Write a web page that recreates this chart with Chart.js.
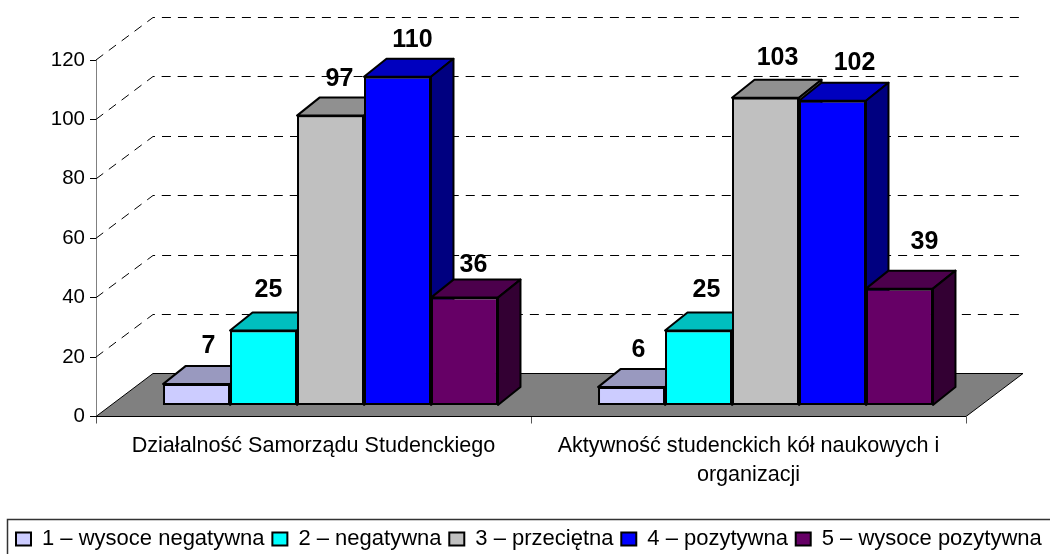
<!DOCTYPE html>
<html><head><meta charset="utf-8">
<style>html,body{margin:0;padding:0;background:#fff;overflow:hidden}#w{position:relative;width:1050px;height:554px}</style>
<script src="https://cdn.jsdelivr.net/npm/chart.js@4/dist/chart.umd.js"></script>
</head><body><div id="w"><canvas id="c" width="1050" height="554"></canvas></div>
<script>
const categories = [["Działalność Samorządu Studenckiego"], ["Aktywność studenckich kół naukowych i", "organizacji"]];
const seriesNames = ["1 – wysoce negatywna", "2 – negatywna", "3 – przeciętna", "4 – pozytywna", "5 – wysoce pozytywna"];
const s1 = [7, 6];
const s2 = [25, 25];
const s3 = [97, 103];
const s4 = [110, 102];
const s5 = [36, 39];
const tickValues = [0, 20, 40, 60, 80, 100, 120];
const seriesValues = [s1, s2, s3, s4, s5];
const fronts = ["#CCCCFF", "#00FFFF", "#C0C0C0", "#0000FF", "#660066"];
const tops = ["#9999BF", "#00BFBF", "#909090", "#0000BF", "#4C004C"];
const sides = ["#666680", "#008080", "#606060", "#000080", "#330033"];
// hand-placed label nudges relative to the bar's top centre [series][category] = [dx, dy]
const labelNudge = [[[12,-38],[7,-37]],[[5,-40],[8,-40]],[[9,-37],[12,-40]],[[15,-37],[22,-38]],[[9,-32],[25,-47]]];

const SHIFT = {x: 17, y: -11.5};
const BAR_DEPTH = {x: 22.5, y: -18};
const WALL = {x: 57, y: -43};
const FONT = '"Liberation Sans", Arial, sans-serif';

const scene = {
  id: 'scene',
  afterLayout(chart) {
    chart.legend.top += 6;
    chart.legend.bottom += 6;
  },
  beforeDatasetsDraw(chart) {
    const {ctx, chartArea: a, scales: {y}} = chart;
    const y0 = y.getPixelForValue(0);
    ctx.save();
    // floor
    ctx.beginPath();
    ctx.moveTo(a.left, y0);
    ctx.lineTo(a.left + WALL.x, y0 + WALL.y);
    ctx.lineTo(a.right + WALL.x, y0 + WALL.y);
    ctx.lineTo(a.right, y0);
    ctx.closePath();
    ctx.fillStyle = '#808080';
    ctx.fill();
    ctx.strokeStyle = '#000';
    ctx.lineWidth = 1;
    ctx.stroke();
    // dashed grid
    ctx.setLineDash([9, 7]);
    tickValues.filter(v => v > 0).forEach(v => {
      const p = y.getPixelForValue(v);
      const back = Math.round(p + WALL.y) + 0.5;
      ctx.beginPath();
      ctx.moveTo(a.left, p);
      ctx.lineTo(a.left + WALL.x, back);
      ctx.lineTo(a.right + WALL.x, back);
      ctx.stroke();
    });
    ctx.setLineDash([]);
    // bars
    chart.data.datasets.forEach((ds, i) => {
      chart.getDatasetMeta(i).data.forEach(el => {
        const b = el.getProps(['x', 'y', 'base', 'width'], true);
        const l = b.x - b.width / 2, r = b.x + b.width / 2;
        ctx.save();
        ctx.translate(SHIFT.x, SHIFT.y);
        ctx.strokeStyle = '#000';
        ctx.lineWidth = 2;
        ctx.lineJoin = 'round';
        ctx.beginPath();
        ctx.moveTo(l, b.y); ctx.lineTo(l + BAR_DEPTH.x, b.y + BAR_DEPTH.y);
        ctx.lineTo(r + BAR_DEPTH.x, b.y + BAR_DEPTH.y); ctx.lineTo(r, b.y); ctx.closePath();
        ctx.fillStyle = tops[i]; ctx.fill(); ctx.stroke();
        ctx.beginPath();
        ctx.moveTo(r, b.y); ctx.lineTo(r + BAR_DEPTH.x, b.y + BAR_DEPTH.y);
        ctx.lineTo(r + BAR_DEPTH.x, b.base + BAR_DEPTH.y); ctx.lineTo(r, b.base); ctx.closePath();
        ctx.fillStyle = sides[i]; ctx.fill(); ctx.stroke();
        el.draw(ctx);
        ctx.restore();
      });
    });
    // value labels
    ctx.fillStyle = '#000';
    ctx.font = 'bold 25px ' + FONT;
    ctx.textAlign = 'center';
    ctx.textBaseline = 'middle';
    chart.data.datasets.forEach((ds, i) => {
      chart.getDatasetMeta(i).data.forEach((el, j) => {
        const b = el.getProps(['x', 'y'], true);
        const n = labelNudge[i][j];
        ctx.fillText(String(ds.data[j]), b.x + SHIFT.x + n[0], b.y + SHIFT.y + n[1]);
      });
    });
    ctx.restore();
    return false;
  },
  afterDraw(chart) {
    const {ctx} = chart;
    ctx.save();
    ctx.strokeStyle = '#333';
    ctx.lineWidth = 1.5;
    ctx.strokeRect(7.5, 519.5, 1060, 60);
    ctx.restore();
  }
};

new Chart(document.getElementById('c'), {
  type: 'bar',
  data: {
    labels: categories,
    datasets: seriesNames.map((name, i) => ({
      label: name,
      data: seriesValues[i],
      yAxisID: 'yr',
      backgroundColor: fronts[i],
      borderColor: '#000',
      borderWidth: 2,
      borderSkipped: false
    }))
  },
  options: {
    responsive: false,
    animation: false,
    layout: {padding: {top: 60, left: 8.2, right: -20, bottom: 0}},
    datasets: {bar: {categoryPercentage: 0.77, barPercentage: 1}},
    plugins: {
      tooltip: {enabled: false},
      legend: {
        position: 'bottom',
        align: 'start',
        labels: {
          color: '#000',
          font: {family: FONT, size: 22},
          boxWidth: 15, boxHeight: 13, padding: 7.8
        }
      }
    },
    scales: {
      x: {
        grid: {drawOnChartArea: false, offset: true, tickLength: 7, color: '#555'},
        border: {display: false},
        ticks: {color: '#000', font: {family: FONT, size: 21.6, lineHeight: 1.33}, padding: 8, maxRotation: 0, autoSkip: false},
        afterFit(s) { s.height = 554 - 416.5 - s.chart.legend.height; }
      },
      y: {
        min: 0, max: 120,
        afterBuildTicks(s) { s.ticks = tickValues.map(v => ({value: v})); },
        grid: {drawOnChartArea: false, tickLength: 6, color: '#000'},
        border: {color: '#808080', width: 1},
        ticks: {color: '#000', font: {family: FONT, size: 20.5}, padding: 5},
        afterFit(s) { s.width = 87.8; }
      },
      yr: {
        position: 'right', display: true, min: 0, max: 119.5,
        grid: {display: false}, border: {display: false}, ticks: {display: false},
        afterFit(s) { s.width = 104; }
      }
    }
  },
  plugins: [scene]
});
</script></body></html>
